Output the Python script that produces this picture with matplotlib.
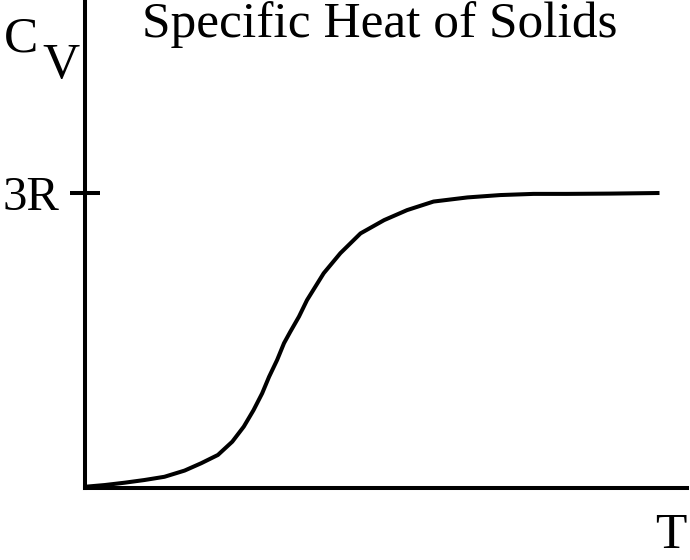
import matplotlib
matplotlib.use("Agg")
import matplotlib.pyplot as plt

# Data (T scaled so the curve ends at 1, Cv in units of 3R)
T = [0.000, 0.035, 0.070, 0.104, 0.139, 0.174, 0.203, 0.232, 0.257, 0.277,
     0.294, 0.309, 0.321, 0.335, 0.347, 0.358, 0.373, 0.387, 0.416, 0.445,
     0.480, 0.521, 0.561, 0.607, 0.666, 0.723, 0.781, 0.839, 0.915, 1.000]
Cv = [0.004, 0.010, 0.018, 0.027, 0.038, 0.059, 0.084, 0.112, 0.157, 0.208,
      0.264, 0.321, 0.377, 0.434, 0.491, 0.530, 0.581, 0.637, 0.728, 0.796,
      0.863, 0.908, 0.942, 0.971, 0.985, 0.993, 0.997, 0.997, 0.998, 1.000]
ytick_vals = [1.0]
ytick_labels = ["3R"]

plt.rcParams['font.family'] = ['Liberation Serif', 'DejaVu Serif']

W, H = 690, 560
fig = plt.figure(figsize=(W / 100, H / 100), dpi=100)
ax = fig.add_axes([84.5 / W, (H - 488) / H, (687 - 84.5) / W, 488 / H])

lw = 2.9
ax.plot(T, Cv, color='black', lw=lw, solid_capstyle='butt', solid_joinstyle='round')
ax.set_xlim(0, 602.5 / 575)
ax.set_ylim(0, 488 / 295)

for s in ['top', 'right']:
    ax.spines[s].set_visible(False)
for s in ['left', 'bottom']:
    ax.spines[s].set_linewidth(lw)
    ax.spines[s].set_capstyle('projecting')

ax.set_xticks([])
ax.set_yticks(ytick_vals)
ax.set_yticklabels(ytick_labels, fontsize=35)
ax.tick_params(axis='y', direction='inout', length=21.5, width=lw, pad=7)

fs = 37
fig.text(380 / W, 1 - 1 / H, "Specific Heat of Solids", ha='center', va='top', fontsize=fs)
fig.text(4 / W, 1 - 52 / H, "C", ha='left', va='baseline', fontsize=fs)
fig.text(42 / W, 1 - 78 / H, "V", ha='left', va='baseline', fontsize=fs)
fig.text(687 / W, 1 - 548 / H, "T", ha='right', va='baseline', fontsize=fs)

fig.savefig("out.png", dpi=100)
